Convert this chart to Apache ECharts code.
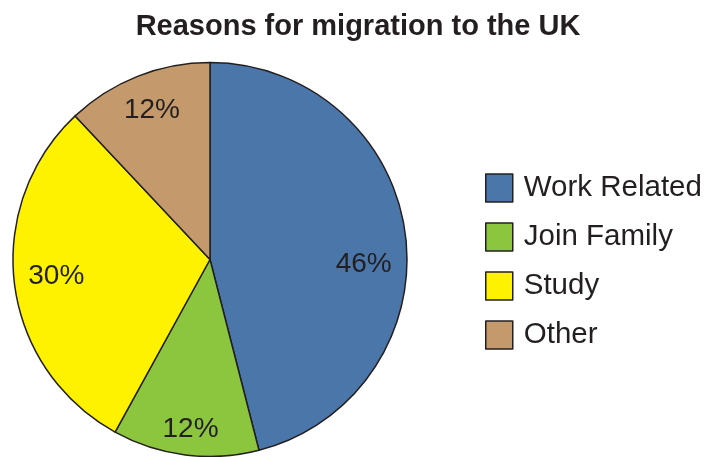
<!DOCTYPE html>
<html>
<head>
<meta charset="utf-8">
<script src="https://cdn.jsdelivr.net/npm/echarts@6/dist/echarts.min.js"></script>
<style>
html,body{margin:0;padding:0;background:#fff;}
#chart{width:705px;height:457px;}
</style>
</head>
<body>
<div id="chart"></div>
<script>
const categories = ['Work Related', 'Join Family', 'Study', 'Other'];
const values = [46, 12, 30, 12];
const colors = ['#4a76aa', '#8cc63f', '#fff200', '#c49a6c'];
const labelNudges = [[-8, 25], [1, 8], [8, -4], [2, 2]];

const textColor = '#231f20';
const font = '"Liberation Sans", Arial, sans-serif';

const chart = echarts.init(document.getElementById('chart'));
const center = [210, 259.5];
const R = 197;

chart.setOption({
  animation: false,
  title: {
    text: 'Reasons for migration to the UK',
    left: 353, textAlign: 'center', top: 7,
    textStyle: { fontFamily: font, fontWeight: 'bold', fontSize: 29, color: textColor }
  },
  legend: {
    orient: 'vertical',
    left: 485, top: 173,
    padding: 0,
    itemWidth: 27, itemHeight: 28, itemGap: 19,
    icon: 'rect',
    selectedMode: false,
    data: categories,
    itemStyle: { borderColor: textColor, borderWidth: 1.5 },
    textStyle: { fontFamily: font, fontSize: 29.5, color: textColor, lineHeight: 28, padding: [0, 0, 0, 6] }
  },
  series: [
    {
      type: 'pie',
      center: center,
      radius: [0, R],
      startAngle: 90,
      clockwise: true,
      silent: true,
      label: { show: false },
      labelLine: { show: false },
      itemStyle: { borderColor: textColor, borderWidth: 1.5 },
      data: categories.map((c, i) => ({ name: c, value: values[i], itemStyle: { color: colors[i] } }))
    },
    {
      type: 'pie',
      center: center,
      radius: [123, R],
      startAngle: 90,
      clockwise: true,
      silent: true,
      legendHoverLink: false,
      itemStyle: { color: 'rgba(0,0,0,0)', borderWidth: 0 },
      label: {
        show: true, position: 'inside',
        formatter: p => p.value + '%',
        fontFamily: font, fontSize: 28, color: textColor
      },
      labelLine: { show: false },
      data: categories.map((c, i) => ({
        name: c + ' ', value: values[i],
        label: { offset: labelNudges[i] }
      }))
    }
  ]
});
</script>
</body>
</html>
